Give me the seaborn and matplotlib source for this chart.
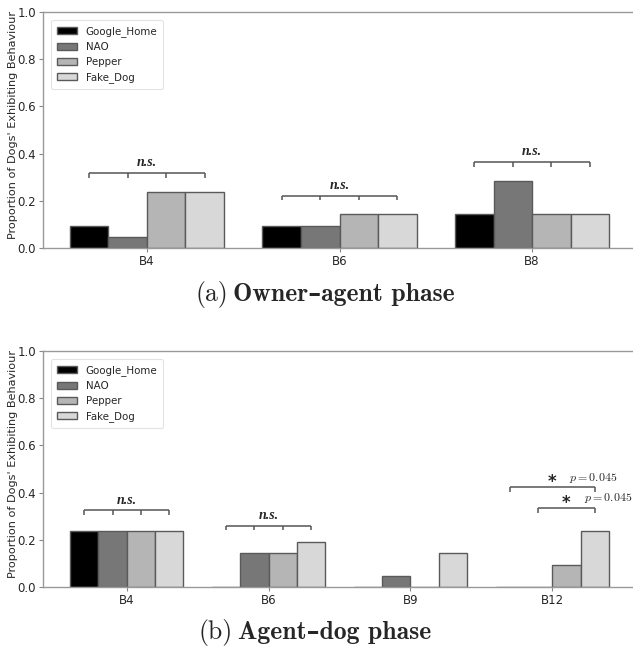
import numpy as np
import pandas as pd
import matplotlib
matplotlib.use('Agg')
import matplotlib.pyplot as plt
import seaborn as sns

agents = ['Google_Home', 'NAO', 'Pepper', 'Fake_Dog']
colors = ['#000000', '#777777', '#b5b5b5', '#d8d8d8']

# (a) owner-agent phase
behav_a = ['B4', 'B6', 'B8']
google_a = [0.095, 0.095, 0.143]
nao_a = [0.048, 0.095, 0.286]
pepper_a = [0.238, 0.143, 0.143]
fake_a = [0.238, 0.143, 0.143]

# (b) agent-dog phase
behav_b = ['B4', 'B6', 'B9', 'B12']
google_b = [0.238, 0.0, 0.0, 0.0]
nao_b = [0.238, 0.143, 0.048, 0.0]
pepper_b = [0.238, 0.143, 0.0, 0.095]
fake_b = [0.238, 0.190, 0.143, 0.238]


def long_df(behav, series):
    rows = []
    for agent, vals in zip(agents, series):
        for b, v in zip(behav, vals):
            rows.append({'Behaviour': b, 'Agent': agent, 'Proportion': v})
    return pd.DataFrame(rows)


df_a = long_df(behav_a, [google_a, nao_a, pepper_a, fake_a])
df_b = long_df(behav_b, [google_b, nao_b, pepper_b, fake_b])

sns.set_style('ticks')
plt.rcParams['mathtext.fontset'] = 'cm'

fig = plt.figure(figsize=(6.33, 6.47), dpi=100)
W, H = 633.0, 647.0
ax1 = fig.add_axes([43 / W, (H - 248) / H, (636 - 43) / W, 236 / H])
ax2 = fig.add_axes([43 / W, (H - 587) / H, (636 - 43) / W, 236 / H])

bar_edge = '#5a5a5a'


def draw(ax, df, behav):
    sns.barplot(data=df, x='Behaviour', y='Proportion', hue='Agent',
                hue_order=agents, order=behav, palette=colors,
                errorbar=None, width=0.8, edgecolor=bar_edge,
                linewidth=1.0, ax=ax)
    n = len(behav)
    ax.set_xlim(-0.4 - 0.05 * (n - 0.2), n - 0.6 + 0.05 * (n - 0.2))
    ax.set_ylim(0, 1.0)
    ax.set_yticks([0.0, 0.2, 0.4, 0.6, 0.8, 1.0])
    ax.set_xlabel('')
    ax.set_ylabel("Proportion of Dogs' Exhibiting Behaviour", fontsize=8.1)
    ax.yaxis.set_label_coords(-25 / 593, 0.52)
    ax.tick_params(axis='both', labelsize=8.5, color='#888888', length=3,
                   width=0.8, pad=2)
    for s in ax.spines.values():
        s.set_color('#999999')
        s.set_linewidth(1.0)
    leg = ax.legend(loc='upper left', fontsize=7.4, frameon=True,
                    borderaxespad=0.8, handlelength=2.0, labelspacing=0.5,
                    borderpad=0.55, handletextpad=0.8)
    leg.get_frame().set_edgecolor('#dddddd')
    leg.get_frame().set_linewidth(0.8)


def centers(ax, ncat, c):
    return [ax.patches[h * ncat + c].get_x() + ax.patches[h * ncat + c].get_width() / 2
            for h in range(len(agents))]


def bracket(ax, xs, y, tick_xs, h=0.02):
    ax.plot([xs[0], xs[-1]], [y, y], color='#555555', lw=1.1, solid_capstyle='butt')
    for x in tick_xs:
        ax.plot([x, x], [y, y - h], color='#555555', lw=1.1, solid_capstyle='butt')


def ns(ax, xs, y):
    bracket(ax, xs, y, xs)
    ax.text((xs[0] + xs[-1]) / 2, y + 0.016, 'n.s.', ha='center', va='bottom',
            fontsize=10, family='Liberation Serif', style='italic', weight='bold')


draw(ax1, df_a, behav_a)
draw(ax2, df_b, behav_b)

# brackets, panel (a)
ns(ax1, centers(ax1, 3, 0), 0.318)
ns(ax1, centers(ax1, 3, 1), 0.222)
ns(ax1, centers(ax1, 3, 2), 0.364)

# brackets, panel (b)
ns(ax2, centers(ax2, 4, 0), 0.325)
ns(ax2, centers(ax2, 4, 1), 0.260)
c12 = centers(ax2, 4, 3)
for xs, y in [([c12[0], c12[3]], 0.422), ([c12[1], c12[3]], 0.335)]:
    bracket(ax2, xs, y, xs)
    mid = (xs[0] + xs[1]) / 2
    ax2.text(mid, y + 0.022, '*', ha='center', va='center', fontsize=12,
             weight='bold', family='DejaVu Sans')
    ax2.text(mid + 0.12, y + 0.012, r'$p = 0.045$', ha='left', va='bottom',
             fontsize=8.6)

# captions
for (lab, txt, xr, yc) in [('(a)', 'Owner\u2013agent phase', 228, 295),
                          ('(b)', 'Agent\u2013dog phase', 233, 633)]:
    fig.text(xr / W, 1 - yc / H, lab, ha='right', va='center', fontsize=18.5,
             family=['cmr10', 'DejaVu Serif'])
    fig.text((xr + 5) / W, 1 - yc / H, txt, ha='left', va='center', fontsize=18.5,
             family=['cmb10', 'DejaVu Serif'], weight='bold')

fig.savefig('out.png', dpi=100)
